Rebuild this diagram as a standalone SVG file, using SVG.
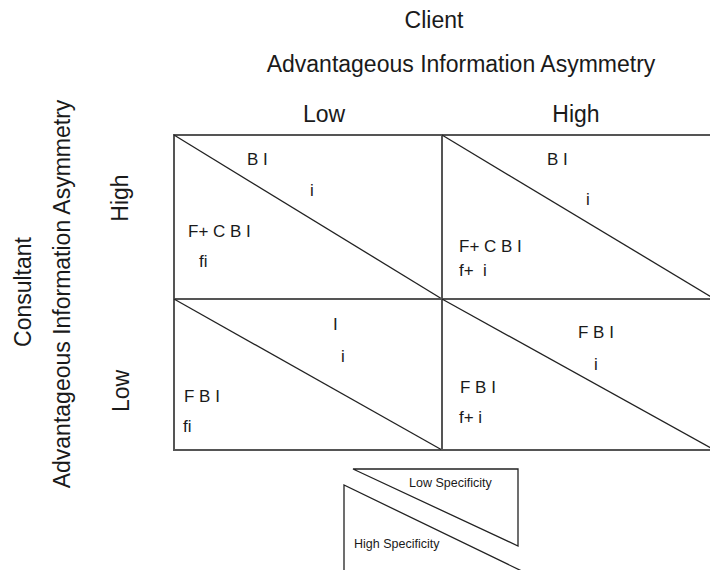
<svg xmlns="http://www.w3.org/2000/svg" width="710" height="570" viewBox="0 0 710 570">
<style>
.t{font-family:"Liberation Sans",Arial,sans-serif;fill:#1a1a1a}
.h{font-size:23px}
.c{font-size:17px}
.s{font-size:12.5px}
.box{fill:none;stroke:#555;stroke-width:2}
.dg{fill:none;stroke:#222;stroke-width:1.3}
</style>
<rect width="710" height="570" fill="#fff"/>
<g id="headers">
<text class="t h" x="434" y="28" text-anchor="middle">Client</text>
<text class="t h" x="461" y="72" text-anchor="middle">Advantageous Information Asymmetry</text>
<text class="t h" x="324" y="122" text-anchor="middle">Low</text>
<text class="t h" x="576" y="122" text-anchor="middle">High</text>
<text class="t h" transform="translate(31,292) rotate(-90)" text-anchor="middle">Consultant</text>
<text class="t h" transform="translate(70,294) rotate(-90)" text-anchor="middle">Advantageous Information Asymmetry</text>
<text class="t h" transform="translate(128,198) rotate(-90)" text-anchor="middle">High</text>
<text class="t h" transform="translate(129,391) rotate(-90)" text-anchor="middle">Low</text>
</g>
<g id="cell-high-low">
<rect class="box" x="174" y="135" width="268" height="164"/>
<line class="dg" x1="174" y1="135" x2="442" y2="299"/>
<text class="t c" x="247" y="165">B I</text>
<text class="t c" x="310" y="196">i</text>
<text class="t c" x="188" y="237">F+ C B I</text>
<text class="t c" x="199" y="267">fi</text>
</g>
<g id="cell-high-high">
<rect class="box" x="442" y="135" width="276" height="164"/>
<line class="dg" x1="442" y1="135" x2="718" y2="301"/>
<text class="t c" x="547" y="165">B I</text>
<text class="t c" x="586" y="205">i</text>
<text class="t c" x="459" y="252">F+ C B I</text>
<text class="t c" x="459" y="276" xml:space="preserve">f+  i</text>
</g>
<g id="cell-low-low">
<rect class="box" x="174" y="299" width="268" height="151"/>
<line class="dg" x1="174" y1="299" x2="442" y2="450"/>
<text class="t c" x="333" y="330">I</text>
<text class="t c" x="341" y="362">i</text>
<text class="t c" x="184" y="402">F B I</text>
<text class="t c" x="183" y="432">fi</text>
</g>
<g id="cell-low-high">
<rect class="box" x="442" y="299" width="276" height="151"/>
<line class="dg" x1="442" y1="299" x2="718" y2="452"/>
<text class="t c" x="578" y="338">F B I</text>
<text class="t c" x="594" y="370">i</text>
<text class="t c" x="460" y="393">F B I</text>
<text class="t c" x="459" y="423">f+ i</text>
</g>
<g id="legend-low">
<polygon class="dg" points="353,469 518,469 518,546"/>
<text class="t s" x="409" y="487">Low Specificity</text>
</g>
<g id="legend-high">
<polyline class="dg" points="344,575 344,485 530,575"/>
<text class="t s" x="354" y="548">High Specificity</text>
</g>
<g id="connectors"></g>
</svg>
